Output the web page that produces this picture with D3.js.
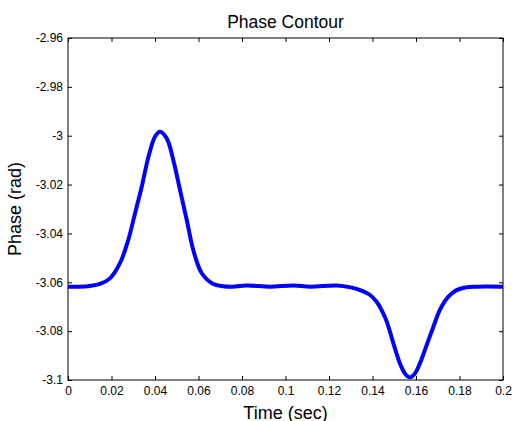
<!DOCTYPE html>
<html>
<head>
<meta charset="utf-8">
<script src="https://cdn.jsdelivr.net/npm/d3@7"></script>
<style>
  body { margin: 0; background: #fff; }
  text { font-family: "Liberation Sans", Arial, sans-serif; fill: #000; }
</style>
</head>
<body>
<script>
// values
const time = [0, 0.005, 0.010, 0.0147, 0.0193, 0.0239, 0.0277, 0.0308, 0.0339, 0.0370,
  0.0400, 0.0423, 0.0454, 0.0484, 0.0515, 0.0546, 0.0576, 0.0615, 0.0668, 0.0714,
  0.0745, 0.0822, 0.0929, 0.1036, 0.1113, 0.1235, 0.1300, 0.1343, 0.1389, 0.1419,
  0.1442, 0.1466, 0.1496, 0.1526, 0.1549, 0.1572, 0.1595, 0.1618, 0.1649, 0.1680,
  0.1710, 0.1749, 0.1787, 0.1833, 0.1879, 0.2];
const phase = [-3.0618, -3.0618, -3.0615, -3.0607, -3.0584, -3.0522, -3.0427, -3.0318, -3.0209, -3.0086,
  -3.0004, -2.9984, -3.0011, -3.0099, -3.0222, -3.0345, -3.0468, -3.0563, -3.0607, -3.0616,
  -3.0618, -3.0613, -3.0618, -3.0613, -3.0618, -3.0613, -3.0621, -3.0632, -3.0652, -3.0680,
  -3.0714, -3.0762, -3.0850, -3.0932, -3.0973, -3.0989, -3.0973, -3.0932, -3.0857, -3.0782,
  -3.0713, -3.0659, -3.0632, -3.0620, -3.0618, -3.0618];
const xTicks = [0, 0.02, 0.04, 0.06, 0.08, 0.1, 0.12, 0.14, 0.16, 0.18, 0.2];
const yTicks = [-3.1, -3.08, -3.06, -3.04, -3.02, -3, -2.98, -2.96];

const w = 516, h = 421;
const m = { left: 68, top: 38, right: 13, bottom: 41 };

const svg = d3.select('body').append('svg').attr('width', w).attr('height', h);

const x = d3.scaleLinear().domain([0, 0.2]).range([m.left, w - m.right]);
const y = d3.scaleLinear().domain([-3.1, -2.96]).range([h - m.bottom, m.top]);

const fmt = d => String(d);

// inward ticks on all four sides, box drawn afterwards
svg.append('g').attr('transform', 'translate(0,' + (h - m.bottom) + ')')
  .call(d3.axisBottom(x).tickValues(xTicks).tickFormat(fmt).tickSizeInner(-4).tickSizeOuter(0).tickPadding(6))
  .call(g => g.select('.domain').remove())
  .call(g => g.selectAll('text').style('font-size', '12px').attr('fill', '#000'));
svg.append('g').attr('transform', 'translate(0,' + m.top + ')')
  .call(d3.axisTop(x).tickValues(xTicks).tickFormat('').tickSizeInner(-4).tickSizeOuter(0))
  .call(g => g.select('.domain').remove());
svg.append('g').attr('transform', 'translate(' + m.left + ',0)')
  .call(d3.axisLeft(y).tickValues(yTicks).tickFormat(fmt).tickSizeInner(-4).tickSizeOuter(0).tickPadding(5))
  .call(g => g.select('.domain').remove())
  .call(g => g.selectAll('text').style('font-size', '12px').attr('fill', '#000'));
svg.append('g').attr('transform', 'translate(' + (w - m.right) + ',0)')
  .call(d3.axisRight(y).tickValues(yTicks).tickFormat('').tickSizeInner(-4).tickSizeOuter(0))
  .call(g => g.select('.domain').remove());

svg.selectAll('.tick line').attr('stroke', '#000');

svg.append('rect')
  .attr('x', m.left).attr('y', m.top)
  .attr('width', w - m.left - m.right).attr('height', h - m.top - m.bottom)
  .attr('fill', 'none').attr('stroke', '#000').attr('stroke-width', 1);

const line = d3.line()
  .x((d, i) => x(time[i]))
  .y(d => y(d))
  .curve(d3.curveCatmullRom.alpha(0.5));

svg.append('path')
  .datum(phase)
  .attr('d', line)
  .attr('fill', 'none')
  .attr('stroke', '#0000ff')
  .attr('stroke-width', 4)
  .attr('stroke-linejoin', 'round');

svg.append('text').text('Phase Contour')
  .attr('x', (m.left + w - m.right) / 2).attr('y', 27.5)
  .attr('text-anchor', 'middle').style('font-size', '17.5px');
svg.append('text').text('Time (sec)')
  .attr('x', (m.left + w - m.right) / 2).attr('y', 418.5)
  .attr('text-anchor', 'middle').style('font-size', '18px');
svg.append('text').text('Phase (rad)')
  .attr('transform', 'translate(20.5,' + (m.top + h - m.bottom) / 2 + ')rotate(-90)')
  .attr('text-anchor', 'middle').style('font-size', '18px');
</script>
</body>
</html>
